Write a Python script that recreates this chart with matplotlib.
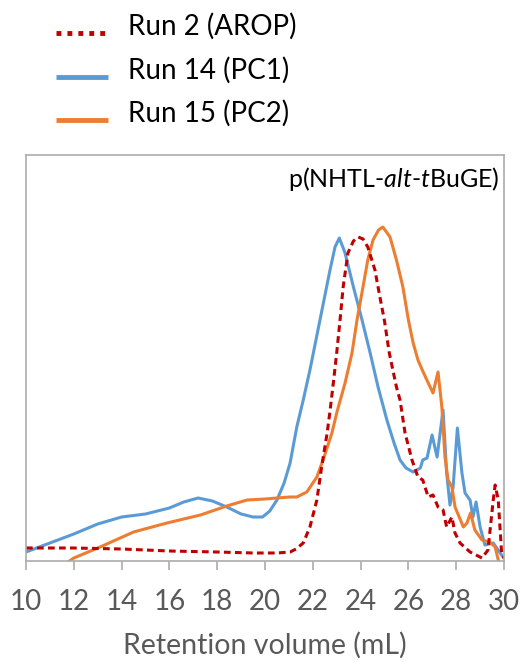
import matplotlib
matplotlib.use("Agg")
import matplotlib.pyplot as plt
from matplotlib.lines import Line2D

plt.rcParams['font.family'] = ['Lato', 'DejaVu Sans']
plt.rcParams['mathtext.fontset'] = 'custom'
plt.rcParams['mathtext.rm'] = 'Lato'
plt.rcParams['mathtext.it'] = 'Lato:italic'

# ---- data (retention volume in mL, detector response in arbitrary units) ----
run14_x = [10.0, 11.0, 12.0, 13.0, 14.0, 15.0, 16.0, 16.6, 17.2, 17.8, 18.4, 19.0, 19.5, 19.9,
           20.2, 20.5, 20.8, 21.05, 21.33, 21.6, 21.88, 22.3, 22.72, 22.93, 23.11, 23.35, 23.7,
           24.06, 24.4, 24.73, 25.1, 25.4, 25.65, 25.9, 26.2, 26.5, 26.6, 26.78, 26.99, 27.2,
           27.45, 27.6, 27.74, 27.87, 28.05, 28.24, 28.37, 28.58, 28.7, 28.83, 29.0, 29.2,
           29.55, 29.9, 30.0]
run14_y = [9, 18, 27, 37, 44, 47, 53, 59, 63, 60, 54, 47, 44, 44,
           50, 61, 78, 98, 134, 161, 191, 241, 291, 314, 323, 308, 274,
           241, 208, 174, 141, 118, 101, 93, 89, 93, 101, 103, 126, 104,
           151, 88, 56, 74, 133, 88, 68, 61, 44, 59, 34, 16,
           18, 6, 3]

run2_x = [10.0, 12.0, 14.0, 16.0, 18.0, 19.5, 20.5, 21.05, 21.3, 21.6, 21.88, 22.17, 22.37,
          22.6, 22.72, 22.84, 23.0, 23.14, 23.27, 23.47, 23.7, 23.9, 24.1, 24.3, 24.6, 24.8,
          25.0, 25.2, 25.5, 25.65, 25.86, 26.15, 26.4, 26.6, 26.83, 27.03, 27.24, 27.45,
          27.6, 27.82, 27.95, 28.16, 28.58, 29.08, 29.33, 29.55, 29.63, 29.76, 29.9, 30.0]
run2_y = [13, 13, 12, 10, 9, 8, 8, 9, 12, 18, 34, 61, 94,
          128, 150, 174, 208, 241, 274, 308, 320, 324, 322, 314, 291, 265,
          240, 208, 174, 161, 128, 101, 84, 81, 64, 66, 54, 51,
          34, 44, 28, 18, 9, 3, 11, 61, 76, 61, 8, 3]

run15_x = [11.76, 12.0, 13.1, 14.5, 15.9, 17.3, 18.4, 19.25, 20.0, 20.5, 21.05, 21.33, 21.75,
           22.17, 22.43, 22.8, 23.0, 23.35, 23.64, 23.85, 24.1, 24.3, 24.52, 24.75, 24.93,
           25.23, 25.5, 25.77, 26.0, 26.2, 26.4, 26.6, 26.83, 27.03, 27.24, 27.4, 27.53,
           27.66, 27.82, 27.95, 28.3, 28.45, 28.6, 28.78, 29.08, 29.4, 29.63, 29.76, 29.85]
run15_y = [-1, 3, 14, 29, 38, 46, 55, 61, 62, 63, 64, 64, 69,
           84, 101, 128, 148, 178, 208, 241, 274, 301, 321, 331, 334,
           324, 301, 274, 241, 218, 201, 190, 178, 168, 189, 154, 104,
           81, 74, 54, 34, 38, 48, 31, 21, 19, 14, 1, -6]

series_labels = ["Run 2 (AROP)", "Run 14 (PC1)", "Run 15 (PC2)"]
xticks = [10, 12, 14, 16, 18, 20, 22, 24, 26, 28, 30]
xlabel = "Retention volume (mL)"
annotation = r"p(NHTL-$\mathit{alt}$-$\mathit{t}$BuGE)"

c_red, c_blue, c_orange = "#C00000", "#5B9BD5", "#ED7D31"
grey = "#ABABAB"
txt_grey = "#595959"

W, H = 523, 662
fig = plt.figure(figsize=(W / 100, H / 100), dpi=100)
ax = fig.add_axes([26 / W, 101 / H, 478 / W, 406 / H])

ax.plot(run14_x, run14_y, color=c_blue, lw=2.2, solid_joinstyle='round')
ax.plot(run15_x, run15_y, color=c_orange, lw=2.2, solid_joinstyle='round')
ax.plot(run2_x, run2_y, color=c_red, lw=2.2, dashes=(2.2, 1.4))

ax.set_xlim(10, 30)
ax.set_ylim(0, 406)
ax.set_xticks(xticks)
ax.set_yticks([])
ax.tick_params(axis='x', direction='out', length=6.5, width=1.2, color=grey,
               labelsize=20, labelcolor=txt_grey, pad=14)
for s in ax.spines.values():
    s.set_color(grey)
    s.set_linewidth(1.2)
ax.set_xlabel(xlabel, fontsize=20.5, color=txt_grey, labelpad=12)

ax.text(0.99, 0.975, annotation, transform=ax.transAxes, ha='right', va='top',
        fontsize=18, color='black')

# legend drawn above the plot (Excel-style: handle sits at text baseline)
styles = [dict(color=c_red, lw=3.5, dashes=(1.0, 1.25), dash_capstyle='butt'),
          dict(color=c_blue, lw=3.5, solid_capstyle='butt'),
          dict(color=c_orange, lw=3.5, solid_capstyle='butt')]
for i, (lab, st) in enumerate(zip(series_labels, styles)):
    y_line = 1 - (33 + 43.5 * i) / H
    y_base = 1 - (35 + 43.5 * i) / H
    fig.add_artist(Line2D([56 / W, 108 / W], [y_line, y_line],
                          transform=fig.transFigure, **st))
    fig.text(128 / W, y_base, lab, fontsize=20, color='black', va='baseline', ha='left')

fig.savefig("out.png", dpi=100)
